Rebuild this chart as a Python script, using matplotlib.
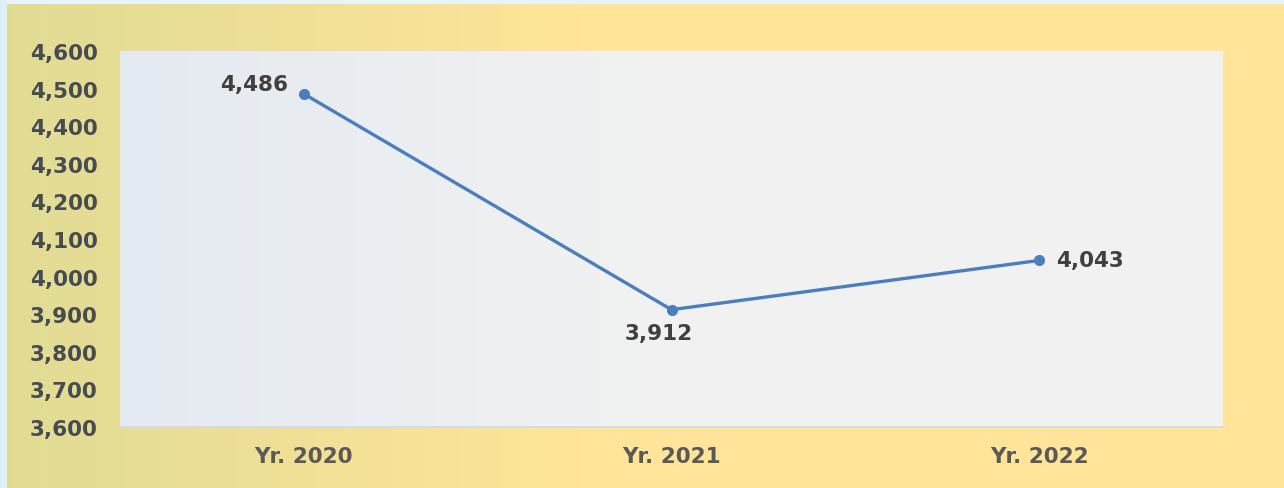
import numpy as np
import matplotlib
matplotlib.use("Agg")
import matplotlib.pyplot as plt
from matplotlib.ticker import FuncFormatter, MultipleLocator

categories = ["Yr. 2020", "Yr. 2021", "Yr. 2022"]
values = [4486, 3912, 4043]
y_ticks = [3600, 3700, 3800, 3900, 4000, 4100, 4200, 4300, 4400, 4500, 4600]

W, H = 1284, 489
fig = plt.figure(figsize=(W / 100, H / 100), dpi=100)

# background
bg = fig.add_axes([0, 0, 1, 1])
bg.set_axis_off()
img = np.ones((H, W, 3))
xs = np.linspace(0, 1, W)
left = np.array([0.88, 0.86, 0.58])
right = np.array([1.0, 0.898, 0.60])
t = np.clip(xs / 0.45, 0, 1)[:, None]
row = left * (1 - t) + right * t
img[:, :, :] = row[None, :, :]
# light frame strips
img[:5, :, :] = np.array([0.91, 0.96, 0.99])
img[:, :7, :] = np.array([0.87, 0.94, 0.98])
bg.imshow(img, extent=[0, 1, 0, 1], aspect="auto", transform=bg.transAxes, zorder=0)
bg.set_xlim(0, 1)
bg.set_ylim(0, 1)

ax = fig.add_axes([120 / W, (H - 428) / H, 1103 / W, 376 / H])
ax.set_facecolor("none")
pimg = np.ones((2, 200, 3))
px = np.linspace(0, 1, 200)
pl = np.array([0.894, 0.918, 0.949])
pr = np.array([0.949, 0.949, 0.949])
pt = np.clip(px / 0.5, 0, 1)[:, None]
prow = pl * (1 - pt) + pr * pt
pimg[:, :, :] = prow[None, :, :]
ax.imshow(pimg, extent=[0, 1, 0, 1], aspect="auto", transform=ax.transAxes, zorder=0)

x = np.arange(len(categories))
ax.plot(x, values, color="#4A7EBF", lw=2.4, marker="o", ms=7, zorder=3,
        solid_capstyle="round")

ax.set_xlim(-0.5, len(categories) - 0.5)
ax.set_ylim(y_ticks[0], y_ticks[-1])
ax.set_yticks(y_ticks)
ax.yaxis.set_major_formatter(FuncFormatter(lambda v, p: f"{int(v):,}"))
ax.set_xticks(x)
ax.set_xticklabels(categories)

for s in ["top", "right", "left"]:
    ax.spines[s].set_visible(False)
ax.spines["bottom"].set_color("#D5D9E0")
ax.spines["bottom"].set_linewidth(1.2)

ax.tick_params(axis="y", length=0, pad=16, labelsize=15.5, labelcolor="#474C52")
ax.tick_params(axis="x", length=0, pad=14, labelsize=15.5, labelcolor="#595959")
for lab in ax.get_xticklabels() + ax.get_yticklabels():
    lab.set_fontweight("bold")

offsets = [(-16, 10, "right", "center"), (-13, -23, "center", "center"), (17, 0, "left", "center")]
for xi, v, (dx, dy, ha, va) in zip(x, values, offsets):
    ax.annotate(f"{v:,}", (xi, v), xytext=(dx * 0.72, dy * 0.72), textcoords="offset points",
                ha=ha, va=va, fontsize=15.5, fontweight="bold", color="#404040", zorder=4)

fig.savefig("out.png", dpi=100)
